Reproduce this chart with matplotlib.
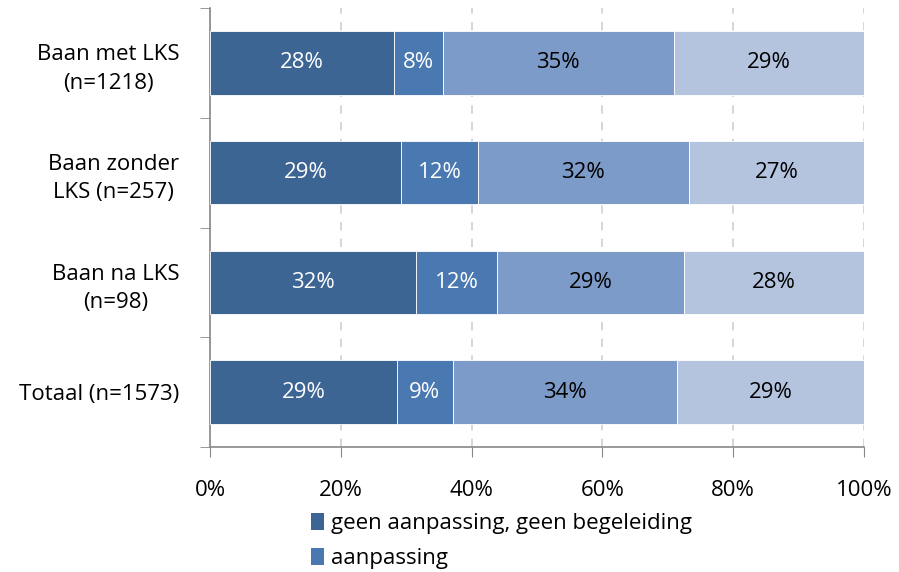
import numpy as np
import matplotlib.pyplot as plt
from matplotlib.patches import Patch

# categories (top to bottom) and shares per series, in %
categories = ["Baan met LKS\n(n=1218)", "Baan zonder\nLKS (n=257)", "Baan na LKS\n(n=98)", "Totaal (n=1573)"]
geen = [28.1, 29.2, 31.5, 28.6]
aanpassing = [7.5, 11.8, 12.4, 8.5]
begeleiding = [35.3, 32.2, 28.6, 34.3]
beide = [29.1, 26.8, 27.5, 28.6]
series_labels = ["geen aanpassing, geen begeleiding", "aanpassing"]
colors = ["#3D6594", "#4A78B1", "#7C9BC8", "#B4C4DF"]
text_colors = ["white", "white", "black", "black"]

plt.rcParams['font.family'] = ['Open Sans', 'DejaVu Sans']
fs = 16

fig = plt.figure(figsize=(8.99, 5.72), dpi=100)
ax = fig.add_axes([210 / 899, 1 - 447 / 572, 654 / 899, 439 / 572])

y = np.arange(len(categories))
left = np.zeros(len(categories))
for vals, col, tc in zip([geen, aanpassing, begeleiding, beide], colors, text_colors):
    vals = np.array(vals)
    ax.barh(y, vals, left=left, height=0.58, color=col, edgecolor="white", linewidth=0.6, zorder=3)
    for yi, l, v in zip(y, left, vals):
        ax.text(l + v / 2, yi, f"{int(v + 0.5)}%", ha="center", va="center", color=tc, fontsize=fs, zorder=4)
    left += vals

ax.set_xlim(0, 100)
ax.set_ylim(3.5, -0.5)
ax.set_xticks(np.arange(0, 101, 20))
ax.set_xticklabels([f"{v}%" for v in range(0, 101, 20)], fontsize=fs)
ax.tick_params(axis="x", length=7, color="#888888", pad=17)
ax.set_yticks(y)
ax.set_yticklabels(categories, fontsize=fs, linespacing=1.45, multialignment="center")
ax.set_yticks(np.arange(-0.5, 4.0, 1.0), minor=True)
ax.tick_params(axis="y", which="major", length=0, pad=22)
ax.tick_params(axis="y", which="minor", length=7, color="#888888")

ax.xaxis.grid(True, linestyle=(0, (5, 5)), color="#D0D0D0", linewidth=1.2, zorder=0)
for s in ["top", "right"]:
    ax.spines[s].set_visible(False)
for s in ["left", "bottom"]:
    ax.spines[s].set_color("#888888")
    ax.spines[s].set_linewidth(1.2)

handles = [Patch(facecolor=c) for c in colors[:2]]
fig.legend(handles, series_labels, loc="upper left", bbox_to_anchor=(311 / 899, 1 - 513 / 572),
           frameon=False, fontsize=fs, handlelength=0.6, handleheight=0.8, handletextpad=0.3,
           labelspacing=0.6, borderpad=0, borderaxespad=0)

fig.savefig("out.png", dpi=100)
